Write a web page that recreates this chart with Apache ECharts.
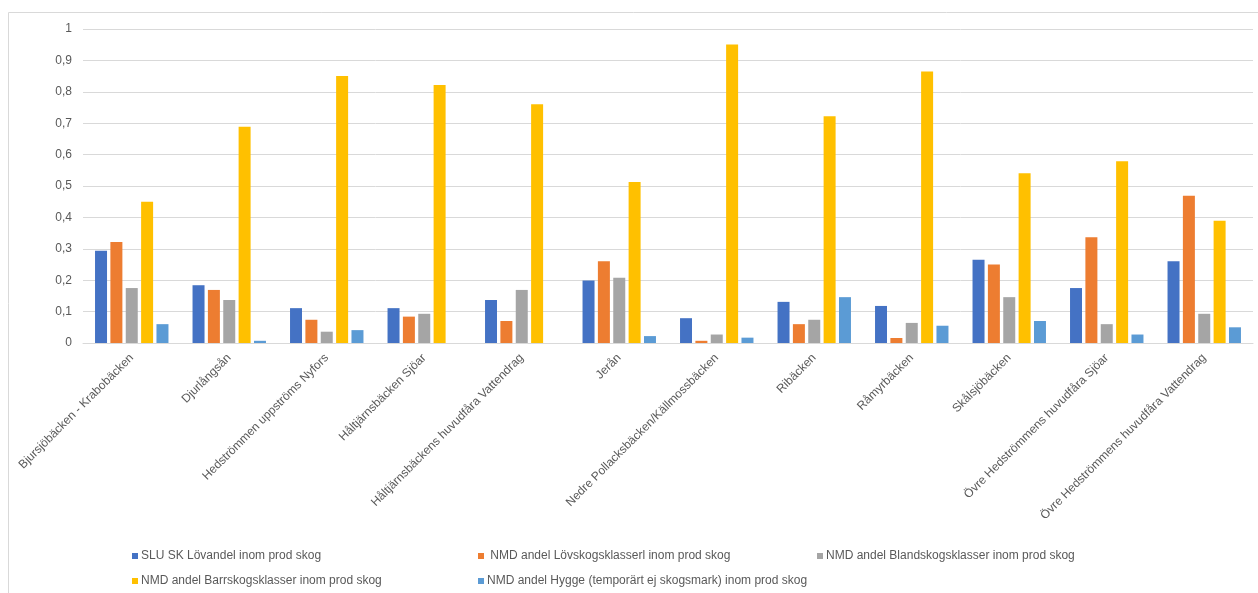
<!DOCTYPE html>
<html>
<head>
<meta charset="utf-8">
<script src="https://cdn.jsdelivr.net/npm/echarts@6/dist/echarts.min.js"></script>
<style>
  html, body { margin: 0; padding: 0; background: #fff; }
  #main { width: 1258px; height: 593px; }
</style>
</head>
<body>
<div id="main"></div>
<script>
// kategorier (vattendrag)
var categories = [
  'Bjursjöbäcken - Krabobäcken',
  'Djurlångsån',
  'Hedströmmen uppströms Nyfors',
  'Håltjärnsbäcken Sjöar',
  'Håltjärnsbäckens huvudfåra Vattendrag',
  'Jerån',
  'Nedre Pollacksbäcken/Källmossbäcken',
  'Ribäcken',
  'Råmyrbäcken',
  'Skålsjöbäcken',
  'Övre Hedströmmens huvudfåra Sjöar',
  'Övre Hedströmmens huvudfåra Vattendrag'
];

var seriesNames = [
  'SLU SK Lövandel inom prod skog',
  ' NMD andel Lövskogsklasserl inom prod skog',
  'NMD andel Blandskogsklasser inom prod skog',
  'NMD andel Barrskogsklasser inom prod skog',
  'NMD andel Hygge (temporärt ej skogsmark) inom prod skog'
];

var sluLov    = [0.294, 0.184, 0.111, 0.111, 0.137, 0.199, 0.079, 0.131, 0.118, 0.265, 0.175, 0.260];
var nmdLov    = [0.322, 0.169, 0.074, 0.084, 0.070, 0.260, 0.007, 0.060, 0.016, 0.250, 0.337, 0.469];
var nmdBland  = [0.175, 0.137, 0.036, 0.093, 0.169, 0.208, 0.027, 0.074, 0.064, 0.146, 0.060, 0.093];
var nmdBarr   = [0.450, 0.689, 0.850, 0.822, 0.760, 0.513, 0.951, 0.722, 0.865, 0.541, 0.579, 0.389];
var nmdHygge  = [0.060, 0.007, 0.041, 0, 0, 0.022, 0.017, 0.146, 0.055, 0.070, 0.027, 0.050];

var yTicks = [0, 0.1, 0.2, 0.3, 0.4, 0.5, 0.6, 0.7, 0.8, 0.9, 1];

var colors = ['#4472C4', '#ED7D31', '#A5A5A5', '#FFC000', '#5B9BD5'];
var allData = [sluLov, nmdLov, nmdBland, nmdBarr, nmdHygge];

var chart = echarts.init(document.getElementById('main'));

var font = 'Liberation Sans';

// en legend per post så kolumnerna hamnar rätt
var legendPos = [
  { left: 127, top: 545 },
  { left: 473, top: 545 },
  { left: 812, top: 545 },
  { left: 127, top: 570 },
  { left: 473, top: 570 }
];
var legends = legendPos.map(function (p, i) {
  return {
    left: p.left,
    top: p.top,
    icon: 'rect',
    itemWidth: 6,
    itemHeight: 6,
    itemGap: 0,
    selectedMode: false,
    textStyle: { color: '#595959', fontSize: 12, fontFamily: font, padding: [0, 0, 0, -2] },
    data: [seriesNames[i]]
  };
});

var series = allData.map(function (d, i) {
  return {
    name: seriesNames[i],
    type: 'bar',
    data: d,
    barWidth: 12,
    barGap: '28%',
    itemStyle: { color: colors[i] }
  };
});

var option = {
  animation: false,
  color: colors,
  graphic: [{
    type: 'rect',
    shape: { x: 8.5, y: 12.5, width: 1300, height: 700 },
    style: { fill: 'none', stroke: '#d9d9d9', lineWidth: 1 },
    silent: true
  }],
  legend: legends,
  grid: {
    left: 83,
    right: 5,
    top: 29,
    bottom: 250,
    containLabel: false
  },
  xAxis: {
    type: 'category',
    data: categories,
    axisLine: { lineStyle: { color: '#d9d9d9' } },
    axisTick: { show: false },
    axisLabel: {
      rotate: 45,
      interval: 0,
      color: '#595959',
      fontSize: 12,
      fontFamily: font,
      margin: 13
    }
  },
  yAxis: {
    type: 'value',
    min: yTicks[0],
    max: yTicks[yTicks.length - 1],
    interval: 0.1,
    axisLine: { show: false },
    axisTick: { show: false },
    splitLine: { lineStyle: { color: '#d9d9d9' } },
    axisLabel: {
      color: '#595959',
      fontSize: 12,
      fontFamily: font,
      margin: 11,
      formatter: function (v) {
        return String(+v.toFixed(1)).replace('.', ',');
      }
    }
  },
  series: series
};

chart.setOption(option);
</script>
</body>
</html>
